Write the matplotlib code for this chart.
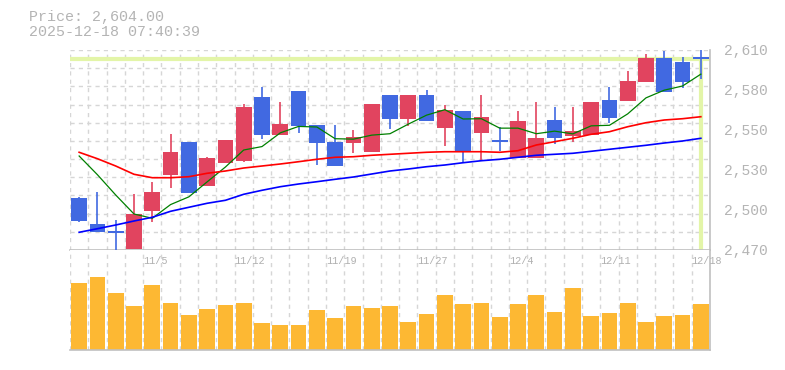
import numpy as np
import matplotlib
matplotlib.use('Agg')
import matplotlib.pyplot as plt
from matplotlib.transforms import blended_transform_factory

# trading days (10/29 .. 12/18)
dates = ['10/29', '10/30', '10/31', '11/4', '11/5', '11/6', '11/7', '11/10', '11/11',
         '11/12', '11/13', '11/14', '11/17', '11/18', '11/19', '11/20', '11/21',
         '11/25', '11/26', '11/27', '11/28', '12/1', '12/2', '12/3', '12/4', '12/5',
         '12/8', '12/9', '12/10', '12/11', '12/12', '12/15', '12/16', '12/17', '12/18']
date_labels = ['11/5', '11/12', '11/19', '11/27', '12/4', '12/11', '12/18']

opens = [2506.4, 2488.2, 2483.5, 2470.7, 2497.5, 2522.7, 2545.6, 2515.0, 2531.1,
         2532.5, 2577.1, 2550.5, 2581.3, 2557.5, 2545.6, 2545.1, 2538.6, 2578.5,
         2561.9, 2578.5, 2555.6, 2567.3, 2552.1, 2547.0, 2534.6, 2534.6, 2561.0,
         2550.0, 2550.7, 2575.0, 2574.5, 2587.8, 2604.4, 2601.6, 2605.2]
highs = [2507.3, 2510.6, 2491.0, 2509.2, 2517.6, 2551.2, 2545.6, 2535.2, 2547.0,
         2572.2, 2584.3, 2573.6, 2581.3, 2557.5, 2557.5, 2554.0, 2572.2, 2578.5,
         2578.5, 2582.0, 2571.5, 2567.3, 2578.5, 2555.9, 2567.5, 2573.8, 2570.1,
         2570.0, 2573.6, 2584.1, 2595.3, 2607.2, 2609.3, 2605.1, 2610.0]
lows = [2489.8, 2482.8, 2469.5, 2470.5, 2489.8, 2513.6, 2510.1, 2515.0, 2531.1,
        2531.6, 2547.7, 2550.5, 2552.1, 2529.7, 2529.0, 2537.9, 2538.6, 2554.7,
        2557.0, 2560.5, 2543.0, 2531.4, 2532.5, 2539.5, 2534.6, 2534.6, 2544.4,
        2545.8, 2550.7, 2559.1, 2574.5, 2587.8, 2580.8, 2583.6, 2590.0]
closes = [2490.5, 2482.8, 2482.1, 2495.2, 2510.6, 2538.6, 2510.1, 2534.4, 2547.0,
          2570.1, 2550.5, 2558.2, 2556.8, 2545.1, 2529.0, 2549.1, 2572.2, 2561.9,
          2578.5, 2560.5, 2568.0, 2539.5, 2563.1, 2545.4, 2560.3, 2548.4, 2548.6,
          2553.5, 2573.6, 2562.6, 2588.3, 2604.4, 2580.8, 2587.8, 2604.0]

ma5 = [2535.8, 2522.7, 2508.5, 2495.2, 2492.2, 2501.8, 2507.2, 2517.7, 2528.1,
       2540.0, 2542.4, 2552.0, 2556.5, 2556.1, 2547.9, 2547.6, 2550.4, 2551.4,
       2558.1, 2564.4, 2568.2, 2561.7, 2561.9, 2555.3, 2555.3, 2551.4, 2553.2,
       2551.3, 2556.9, 2557.3, 2565.3, 2576.5, 2581.9, 2584.8, 2593.1]
ma25 = [2538.4, 2533.9, 2528.8, 2523.0, 2520.6, 2520.6, 2521.3, 2523.7, 2525.3,
        2527.4, 2528.8, 2530.2, 2531.8, 2533.5, 2534.9, 2535.3, 2536.3, 2537.0,
        2537.7, 2538.4, 2538.8, 2538.8, 2538.8, 2538.4, 2539.5, 2543.5, 2545.8,
        2548.2, 2551.0, 2552.8, 2556.3, 2559.1, 2561.0, 2561.9, 2563.3]
ma75 = [2482.4, 2484.9, 2487.5, 2490.3, 2492.9, 2497.1, 2499.9, 2502.7, 2504.8,
        2509.0, 2511.8, 2514.3, 2516.2, 2517.8, 2519.5, 2521.1, 2523.2, 2525.3,
        2526.7, 2528.3, 2529.5, 2531.1, 2532.5, 2533.5, 2534.9, 2536.3, 2537.0,
        2537.7, 2539.1, 2540.5, 2541.9, 2543.3, 2544.9, 2546.3, 2548.2]

volumes = [195, 213, 165, 129, 189, 138, 102, 120, 132, 138, 78, 72, 72, 117, 93,
           129, 123, 129, 81, 105, 159, 135, 138, 96, 135, 159, 111, 180, 99, 108,
           138, 81, 99, 102, 135]

ytick_labels = ['2,470', '2,500', '2,530', '2,550', '2,580', '2,610']
last_price = 2604.00
stamp = '2025-12-18 07:40:39'

UP = '#e1445f'
DOWN = '#4169e1'
GRID = '#d6d6d6'
TXT = '#b4b4b4'
MONO = 'Liberation Mono'

n = len(closes)
x = np.arange(n)
ymin, ymax = 2470, 2610

fig = plt.figure(figsize=(7.85, 3.7), dpi=100)
ax = fig.add_axes([70/785, 1-250/370, 640/785, 200/370])
axv = fig.add_axes([70/785, 1-350/370, 640/785, 100/370])

# price panel
ax.set_xlim(-0.5, n-0.5)
ax.set_ylim(ymin, ymax)
for xb in np.arange(-0.5, n, 1.0):
    ax.axvline(xb, color=GRID, lw=1, ls=(0, (3, 3)), zorder=0)
for yb in np.linspace(ymin, ymax, 12):
    ax.axhline(yb, color=GRID, lw=1, ls=(0, (3, 3)), zorder=0)

o = np.array(opens); c = np.array(closes)
cols = [UP if cc >= oo else DOWN for oo, cc in zip(o, c)]
ax.vlines(x, lows, highs, colors=cols, lw=1.2, zorder=3)
ax.bar(x, np.abs(c-o), bottom=np.minimum(o, c), width=0.86, color=cols, zorder=4)

ax.plot(x, ma5, color='#008000', lw=0.9, zorder=5)
ax.plot(x, ma25, color='#ff0000', lw=1.2, zorder=5)
ax.plot(x, ma75, color='#0000ff', lw=1.2, zorder=5)

# current price marker
ax.axhline(last_price, color='#e3f5a8', lw=3, zorder=2)
ax.vlines(x[-1], ymin, last_price, colors='#e3f5a8', lw=3, zorder=2)

ax.set_xticks([])
ax.yaxis.tick_right()
ax.set_yticks(np.linspace(ymin, ymax, len(ytick_labels)))
ax.set_yticklabels(ytick_labels, fontfamily=MONO, fontsize=10.5, color=TXT)
ax.tick_params(axis='y', length=0, pad=10)
for s in ['left', 'top']:
    ax.spines[s].set_visible(False)
for s in ['bottom', 'right']:
    ax.spines[s].set_color('#c0c0c0')
    ax.spines[s].set_linewidth(1.2)

# volume panel
axv.set_xlim(-0.5, n-0.5)
axv.set_ylim(0, 291)
for xb in np.arange(-0.5, n, 1.0):
    axv.axvline(xb, color=GRID, lw=1, ls=(0, (3, 3)), zorder=0)
axv.bar(x, volumes, width=0.86, color='#fdb833', zorder=2)
axv.set_xticks([]); axv.set_yticks([])
for s in ['left', 'top']:
    axv.spines[s].set_visible(False)
for s in ['bottom', 'right']:
    axv.spines[s].set_color('#c0c0c0')
    axv.spines[s].set_linewidth(1.2)

tr = blended_transform_factory(axv.transData, axv.transAxes)
for lab in date_labels:
    i = dates.index(lab)
    axv.text(i-0.5, 0.885, lab, transform=tr, ha='left', va='center',
             fontfamily=MONO, fontsize=7.3, color='#b0b0b0', zorder=6, clip_on=False)

fig.text(29/785, 1-17/370, 'Price: {:,.2f}'.format(last_price), fontfamily=MONO,
         fontsize=10.8, color=TXT, va='center', ha='left')
fig.text(29/785, 1-32.5/370, stamp, fontfamily=MONO,
         fontsize=10.8, color=TXT, va='center', ha='left')

fig.savefig('out.png', dpi=100)
